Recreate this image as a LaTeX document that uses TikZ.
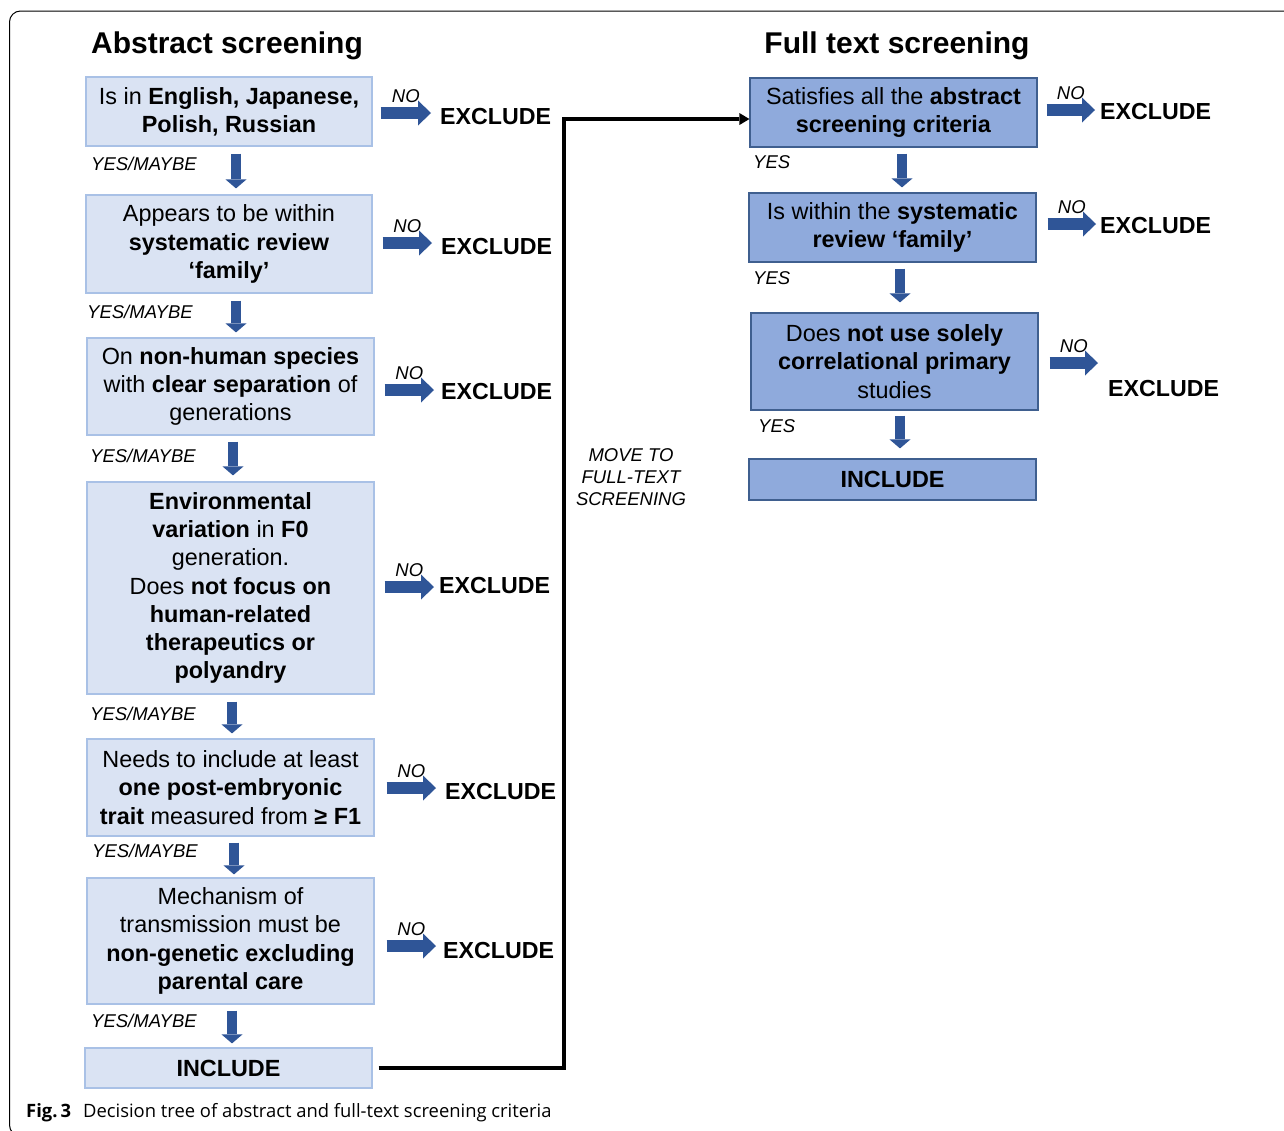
\documentclass[tikz,border=0pt]{standalone}
\usepackage{fontspec}
\setmainfont{Liberation Sans}
\newfontfamily\capfont{Open Sans}
\usetikzlibrary{arrows.meta,calc}
\definecolor{lfill}{HTML}{DAE3F3}
\definecolor{lline}{HTML}{A9C1E6}
\definecolor{rfill}{HTML}{8FAADC}
\definecolor{rline}{HTML}{3F5F8F}
\definecolor{arrc}{HTML}{2F5597}
\begin{document}
\begin{tikzpicture}[x=1pt,y=-1pt,
  every node/.style={inner sep=0pt},
  body/.style={font=\fontsize{23.4}{28.2}\selectfont},
  lbox/.style={body, draw=lline, fill=lfill, line width=1.2pt, align=center},
  rbox/.style={body, draw=rline, fill=rfill, line width=1.2pt, align=center},
  title/.style={font=\fontsize{30}{36}\selectfont\bfseries, anchor=base},
  excl/.style={font=\fontsize{23.2}{28}\selectfont\bfseries, anchor=west},
  small/.style={font=\fontsize{18.5}{22}\selectfont\itshape},
  rarr/.style={draw=arrc, line width=12pt, -{Triangle[length=13pt,width=25pt,line width=0pt]}},
  dnarr/.style={draw=arrc, line width=10pt, -{Triangle[length=9pt,width=21pt,line width=0pt]}},
  conn/.style={draw=black, line width=4pt, -{Triangle[length=10pt,width=12pt,line width=0pt]}},
  nolab/.style={small, midway, yshift=17pt}
]
\useasboundingbox (0,0) rectangle (1284,1130);
\clip (0,0) rectangle (1284,1130);
\draw[line width=1pt, rounded corners=11pt] (9.5,11) rectangle (1320,1136);

% titles
\node[title] (t1) at (227,53) {Abstract screening};
\node[title] (t2) at (897,53) {Full text screening};

% left column
\node[lbox, minimum width=286pt, minimum height=69pt] (b1) at (229,111.5)
  {Is in \textbf{English, Japanese,}\\\textbf{Polish, Russian}};
\node[lbox, minimum width=286pt, minimum height=98pt] (b2) at (229,244)
  {Appears to be within\\\textbf{systematic review}\\\textbf{‘family’}};
\node[lbox, minimum width=287pt, minimum height=97pt] (b3) at (230.5,386.5)
  {On \textbf{non-human species}\\with \textbf{clear separation} of\\generations};
\node[lbox, minimum width=287pt, minimum height=212pt] (b4) at (230.5,588)
  {\textbf{Environmental}\\\textbf{variation} in \textbf{F0}\\generation.\\Does \textbf{not focus on}\\\textbf{human-related}\\\textbf{therapeutics or}\\\textbf{polyandry}};
\node[lbox, minimum width=287pt, minimum height=97pt] (b5) at (230.5,787.5)
  {Needs to include at least\\\textbf{one post-embryonic}\\\textbf{trait} measured from \textbf{≥ F1}};
\node[lbox, minimum width=287pt, minimum height=126pt] (b6) at (230.5,941)
  {Mechanism of\\transmission must be\\\textbf{non-genetic excluding}\\\textbf{parental care}};
\node[lbox, minimum width=287pt, minimum height=40pt] (inc) at (228.5,1068)
  {\textbf{INCLUDE}};

% left down arrows
\draw[dnarr] ([shift={(7,7)}]b1.south) -- ([shift={(7,-6)}]b2.north);
\draw[dnarr] ([shift={(7,7)}]b2.south) -- ([shift={(5.5,-5)}]b3.north);
\draw[dnarr] ([shift={(2.5,6)}]b3.south) -- ([shift={(2.5,-6)}]b4.north);
\draw[dnarr] ([shift={(1.5,7)}]b4.south) -- ([shift={(1.5,-5)}]b5.north);
\draw[dnarr] ([shift={(3.5,6)}]b5.south) -- ([shift={(3.5,-3)}]b6.north);
\draw[dnarr] ([shift={(1.5,6)}]b6.south) -- ([shift={(3.5,-4)}]inc.north);

\node[small, anchor=west] (y1) at (91,164) {YES/MAYBE};
\node[small, anchor=west] (y2) at (87,312) {YES/MAYBE};
\node[small, anchor=west] (y3) at (90,456) {YES/MAYBE};
\node[small, anchor=west] (y4) at (90,714) {YES/MAYBE};
\node[small, anchor=west] (y5) at (92,851) {YES/MAYBE};
\node[small, anchor=west] (y6) at (91,1021) {YES/MAYBE};

% left exclude
\node[excl] (x1) at (440,117) {EXCLUDE};
\node[excl] (x2) at (441,247) {EXCLUDE};
\node[excl] (x3) at (441,392) {EXCLUDE};
\node[excl] (x4) at (439,586) {EXCLUDE};
\node[excl] (x5) at (445,791) {EXCLUDE};
\node[excl] (x6) at (443,950) {EXCLUDE};

\draw[rarr] ([shift={(8,1.5)}]b1.east) -- node[nolab] {NO} ([shift={(-9,-4)}]x1.west);
\draw[rarr] ([shift={(10,-1)}]b2.east) -- node[nolab] {NO} ([shift={(-9,-4)}]x2.west);
\draw[rarr] ([shift={(10,3.5)}]b3.east) -- node[nolab] {NO} ([shift={(-7,-2)}]x3.west);
\draw[rarr] ([shift={(10,-1)}]b4.east) -- node[nolab] {NO} ([shift={(-5,1)}]x4.west);
\draw[rarr] ([shift={(12,0.5)}]b5.east) -- node[nolab] {NO} ([shift={(-9,-3)}]x5.west);
\draw[rarr] ([shift={(12,5)}]b6.east) -- node[nolab] {NO} ([shift={(-7,-4)}]x6.west);

% right column
\node[rbox, minimum width=287pt, minimum height=69pt] (r1) at (893.5,112.5)
  {Satisfies all the \textbf{abstract}\\\textbf{screening criteria}};
\node[rbox, minimum width=287pt, minimum height=69pt] (r2) at (892.5,227.5)
  {Is within the \textbf{systematic}\\\textbf{review ‘family’}};
\node[rbox, minimum width=287pt, minimum height=97pt] (r3) at (894.5,361.5)
  {Does \textbf{not use solely}\\\textbf{correlational primary}\\studies};
\node[rbox, minimum width=287pt, minimum height=41pt] (r4) at (892.5,479.5)
  {\textbf{INCLUDE}};

\draw[dnarr] ([shift={(8.5,6)}]r1.south) -- ([shift={(9.5,-5)}]r2.north);
\draw[dnarr] ([shift={(7.5,6)}]r2.south) -- ([shift={(5.5,-10)}]r3.north);
\draw[dnarr] ([shift={(5.5,5)}]r3.south) -- ([shift={(7.5,-10)}]r4.north);

\node[small, anchor=west] (ry1) at (753,162) {YES};
\node[small, anchor=west] (ry2) at (753,278) {YES};
\node[small, anchor=west] (ry3) at (758,426) {YES};

\node[excl] (rx1) at (1100,112) {EXCLUDE};
\node[excl] (rx2) at (1100,226) {EXCLUDE};
\node[excl] (rx3) at (1108,389) {EXCLUDE};

\draw[rarr] ([shift={(9,-2.5)}]r1.east) -- node[nolab] {NO} ([shift={(-5,-2)}]rx1.west);
\draw[rarr] ([shift={(11,-3.5)}]r2.east) -- node[nolab] {NO} ([shift={(-4,-2)}]rx2.west);
\draw[rarr] ([shift={(11,1.5)}]r3.east) -- node[nolab] {NO} ([shift={(-10,-26)}]rx3.west);

% connector to full text
\coordinate (turn) at (564,119);
\draw[conn] ([xshift=6pt]inc.east) -| (turn) -- (turn -| r1.west);
\node[small, align=center] (mv) at (631,477) {MOVE TO\\FULL-TEXT\\SCREENING};

% caption
\node[anchor=base west, font=\capfont\fontsize{18.4}{22}\selectfont] (cap) at (26,1117)
  {\textbf{Fig.\,3}\hspace{12pt}Decision tree of abstract and full-text screening criteria};
\end{tikzpicture}
\end{document}
